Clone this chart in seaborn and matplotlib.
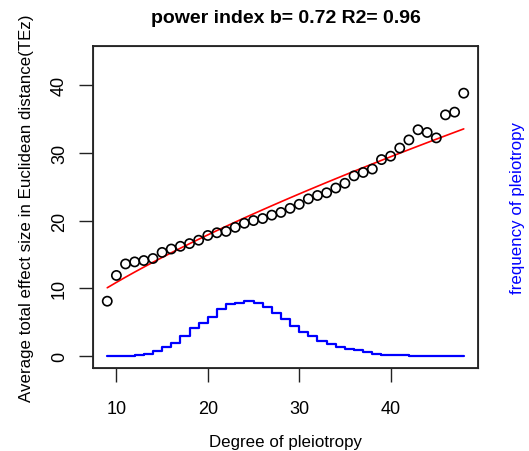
import numpy as np
import pandas as pd
import matplotlib
matplotlib.use("Agg")
import matplotlib.pyplot as plt
import seaborn as sns

#-------------------------------------------------------------------------------
#   data
#-------------------------------------------------------------------------------
degree = list(range(9, 49))

avg_effect = [8.1, 11.9, 13.6, 13.9, 14.1, 14.4, 15.3, 15.8, 16.2, 16.6,
              17.1, 17.8, 18.2, 18.4, 19.0, 19.6, 20.0, 20.3, 20.8, 21.2,
              21.8, 22.4, 23.2, 23.7, 24.1, 24.8, 25.5, 26.6, 27.1, 27.6,
              29.0, 29.5, 30.7, 31.9, 33.4, 33.0, 32.2, 35.6, 36.0, 38.8]

# frequency of pleiotropy (drawn on its own, unlabelled, right axis)
freq_pleio = [0.0, 0.02, 0.05, 0.15, 0.34, 0.68, 1.32, 2.0, 2.9, 4.1,
              4.9, 5.8, 7.0, 7.7, 7.9, 8.1, 7.9, 7.2, 6.4, 5.5,
              4.4, 3.6, 2.9, 2.25, 1.76, 1.32, 1.0, 0.88, 0.54, 0.34,
              0.2, 0.15, 0.1, 0.06, 0.04, 0.03, 0.02, 0.01, 0.01, 0.0]

title_txt = "power index b= 0.72 R2= 0.96"
x_label = "Degree of pleiotropy"
y_label = "Average total effect size in Euclidean distance(TEz)"
y2_label = "frequency of pleiotropy"

df = pd.DataFrame({"degree": degree, "effect": avg_effect, "freq": freq_pleio})

# power fit  y = a * x^b  (log-log least squares)
b, log_a = np.polyfit(np.log(df["degree"]), np.log(df["effect"]), 1)
df["fit"] = np.exp(log_a) * df["degree"] ** b

#-------------------------------------------------------------------------------
#   plot
#-------------------------------------------------------------------------------
sns.set_style("ticks")
plt.rcParams["font.family"] = ["Liberation Sans", "DejaVu Sans"]
plt.rcParams["text.color"] = "black"
plt.rcParams["axes.labelcolor"] = "black"
plt.rcParams["xtick.color"] = "black"
plt.rcParams["ytick.color"] = "black"

fig = plt.figure(figsize=(5.29, 4.52), dpi=100)
ax = fig.add_axes([0.1758, 0.1836, 0.7278, 0.7124])

sns.scatterplot(data=df, x="degree", y="effect", ax=ax, marker="o", s=44,
                facecolors="none", edgecolor="black", linewidth=1.2, zorder=3)
sns.lineplot(data=df, x="degree", y="fit", ax=ax, color="red", linewidth=1.2,
             zorder=2)

# R style 4% axis expansion
xr = df["degree"].max() - df["degree"].min()
ax.set_xlim(df["degree"].min() - 0.04 * xr, df["degree"].max() + 0.04 * xr)
ax.set_ylim(0 - 0.04 * 44, 44 + 0.04 * 44)
ax.set_xticks([10, 20, 30, 40])
ax.set_yticks([0, 10, 20, 30, 40])
ax.tick_params(axis="both", length=10, width=1.0, color="#222222", labelsize=13)
ax.tick_params(axis="x", pad=13)
ax.tick_params(axis="y", pad=8)
for lab in ax.get_yticklabels():
    lab.set_rotation(90)
    lab.set_va("center")
for sp in ax.spines.values():
    sp.set_visible(True)
    sp.set_linewidth(1.3)
    sp.set_color("#222222")

ax.set_xlabel(x_label, fontsize=12.2, labelpad=12)
ax.set_ylabel(y_label, fontsize=12.2, labelpad=12)
ax.set_title(title_txt, fontsize=14, fontweight="bold", pad=17)

ax2 = ax.twinx()
sns.lineplot(data=df, x="degree", y="freq", ax=ax2, color="blue",
             linewidth=1.6, drawstyle="steps-post")
ax2.set_ylim(ax.get_ylim())
ax2.set_yticks([])
ax2.set_ylabel(y2_label, color="blue", fontsize=12.2, labelpad=23)

fig.savefig("out.png", dpi=100)
